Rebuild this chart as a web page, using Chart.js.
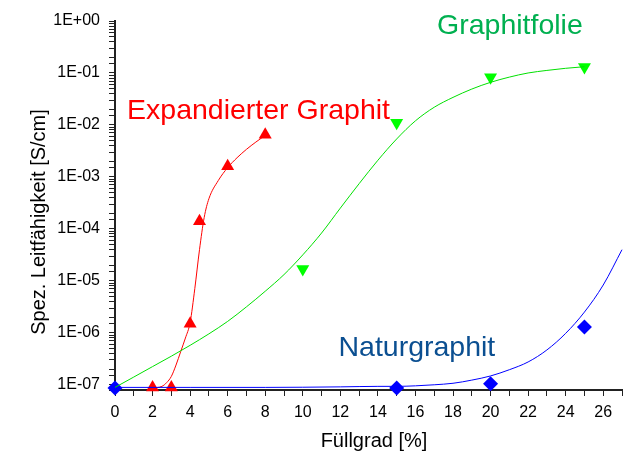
<!DOCTYPE html>
<html>
<head>
<meta charset="utf-8">
<script src="https://cdn.jsdelivr.net/npm/chart.js@4"></script>
<style>
  html, body { margin: 0; padding: 0; background: #fff; overflow: hidden; }
  #wrap { width: 624px; height: 453px; }
  canvas { display: block; }
</style>
</head>
<body>
<div id="wrap"><canvas id="myChart" width="624" height="453"></canvas></div>
<script>
// measured points
var expX = [2, 3, 4, 4.5, 6, 8];
var expY = [8.9e-8, 8.9e-8, 1.5e-6, 1.4e-4, 1.6e-3, 6.5e-3];
var folieX = [10, 15, 20, 25];
var folieY = [1.7e-5, 1.1e-2, 8.3e-2, 1.3e-1];
var naturX = [0, 15, 20, 25];
var naturY = [8.7e-8, 8.7e-8, 1.05e-7, 1.3e-6];

// fit curves
var expFitX = [2, 2.5, 2.75, 3, 3.25, 3.5, 3.75, 4, 4.25, 4.5, 4.75, 5, 5.5, 6, 6.5, 7, 7.5, 8];
var expFitY = [8.71e-8, 9.33e-8, 1.10e-7, 1.45e-7, 2.40e-7, 4.37e-7, 7.94e-7, 1.58e-6, 7.08e-6, 3.98e-5,
               1.66e-4, 3.80e-4, 8.51e-4, 1.51e-3, 2.34e-3, 3.39e-3, 4.68e-3, 6.31e-3];
var folieFitX = [0, 1, 2, 3, 4, 5, 6, 7, 8, 9, 10, 11, 12, 13, 14, 15, 16, 17, 18, 19, 20, 21, 22, 23, 24, 25];
var folieFitY = [8.91e-8, 1.41e-7, 2.24e-7, 3.55e-7, 5.75e-7, 9.55e-7, 1.66e-6, 3.16e-6, 6.31e-6, 1.32e-5,
                 3.16e-5, 8.32e-5, 2.51e-4, 7.41e-4, 2.09e-3, 5.37e-3, 1.20e-2, 2.19e-2, 3.39e-2, 4.90e-2,
                 6.61e-2, 8.32e-2, 1.00e-1, 1.12e-1, 1.23e-1, 1.32e-1];
var naturFitX = [0, 4, 8, 12, 14, 15, 16, 17, 18, 19, 20, 21, 22, 23, 24, 25, 26, 27];
var naturFitY = [8.91e-8, 8.91e-8, 8.91e-8, 9.12e-8, 9.33e-8, 9.33e-8, 9.55e-8, 1.0e-7, 1.07e-7, 1.23e-7,
                 1.48e-7, 1.95e-7, 2.75e-7, 4.68e-7, 9.77e-7, 2.51e-6, 8.32e-6, 3.98e-5];

var seriesNames = ["Expandierter Graphit", "Graphitfolie", "Naturgraphit"];
var xTitle = "Füllgrad [%]";
var yTitle = "Spez. Leitfähigkeit [S/cm]";

var pts = function (xs, ys) {
    var out = [];
    for (var i = 0; i < xs.length; i++) out.push({x: xs[i], y: ys[i]});
    return out;
};

var FONT = '"Liberation Sans", Arial, sans-serif';

// series names drawn in the plot, anchored on data coordinates
var labelPlugin = {
    id: 'seriesLabels',
    afterDatasetsDraw: function (chart) {
        var ctx = chart.ctx, xs = chart.scales.x, ys = chart.scales.y;
        var items = [
            {text: seriesNames[0], x: 0.64, y: 1.3e-2, color: '#ff0000'},
            {text: seriesNames[1], x: 17.15, y: 0.562, color: '#00b050'},
            {text: seriesNames[2], x: 11.9, y: 3.63e-7, color: '#0b4f91'}
        ];
        ctx.save();
        ctx.font = '28.5px ' + FONT;
        ctx.textBaseline = 'alphabetic';
        ctx.textAlign = 'left';
        items.forEach(function (it) {
            ctx.fillStyle = it.color;
            ctx.fillText(it.text, xs.getPixelForValue(it.x), ys.getPixelForValue(it.y));
        });
        // axis titles
        ctx.fillStyle = '#000';
        ctx.font = '20px ' + FONT;
        ctx.textAlign = 'center';
        ctx.textBaseline = 'middle';
        ctx.fillText(xTitle, 374, 441);
        ctx.translate(39, 222);
        ctx.rotate(-Math.PI / 2);
        ctx.fillText(yTitle, 0, 0);
        ctx.restore();
    }
};

var fitLine = function (data, color) {
    return {
        type: 'line', data: data, showLine: true, borderColor: color, borderWidth: 1,
        pointRadius: 0, fill: false, cubicInterpolationMode: 'monotone', clip: false
    };
};
var marks = function (data, color, style, rot) {
    return {
        type: 'scatter', data: data, pointStyle: style, pointRotation: rot,
        pointRadius: 7.5, pointHoverRadius: 7.5, backgroundColor: color, borderColor: color,
        borderWidth: 0, clip: false
    };
};

var ctx = document.getElementById("myChart");
var myChart = new Chart(ctx, {
    type: 'scatter',
    data: {
        datasets: [
            fitLine(pts(folieFitX, folieFitY), '#00e000'),
            fitLine(pts(naturFitX, naturFitY), '#0000ff'),
            fitLine(pts(expFitX, expFitY), '#ff0000'),
            marks(pts(folieX, folieY), '#00ff00', 'triangle', 180),
            marks(pts(naturX, naturY), '#0000ff', 'rectRot', 0),
            marks(pts(expX, expY), '#ff0000', 'triangle', 0)
        ]
    },
    options: {
        responsive: false,
        animation: false,
        layout: {autoPadding: false, padding: {top: 21, right: 2, left: 0, bottom: 0}},
        plugins: {legend: {display: false}, tooltip: {enabled: false}},
        scales: {
            x: {
                type: 'linear', min: 0, max: 27,
                border: {display: true, color: '#222', width: 2},
                grid: {drawOnChartArea: false, drawTicks: true, tickLength: 6, color: '#222'},
                ticks: {
                    stepSize: 1, autoSkip: false, maxRotation: 0, padding: 7, color: '#000',
                    font: {family: FONT, size: 16},
                    callback: function (v) { return v % 2 === 0 ? String(v) : ''; }
                },
                afterFit: function (s) { s.height = 63; s.paddingRight = 0; s.paddingLeft = 0; }
            },
            y: {
                type: 'logarithmic', min: 7.94e-8, max: 1,
                border: {display: true, color: '#222', width: 2},
                grid: {drawOnChartArea: false, drawTicks: true, tickLength: 6, color: '#222'},
                ticks: {
                    autoSkip: false, padding: 9, color: '#000',
                    font: {family: FONT, size: 16},
                    callback: function (v) {
                        var l = Math.log10(v), e = Math.round(l);
                        if (Math.abs(l - e) > 1e-6) return '';
                        var a = Math.abs(e);
                        return '1E' + (e < 0 ? '-' : '+') + (a < 10 ? '0' : '') + a;
                    }
                },
                afterFit: function (s) { s.width = 115; }
            }
        }
    },
    plugins: [labelPlugin]
});
</script>
</body>
</html>
